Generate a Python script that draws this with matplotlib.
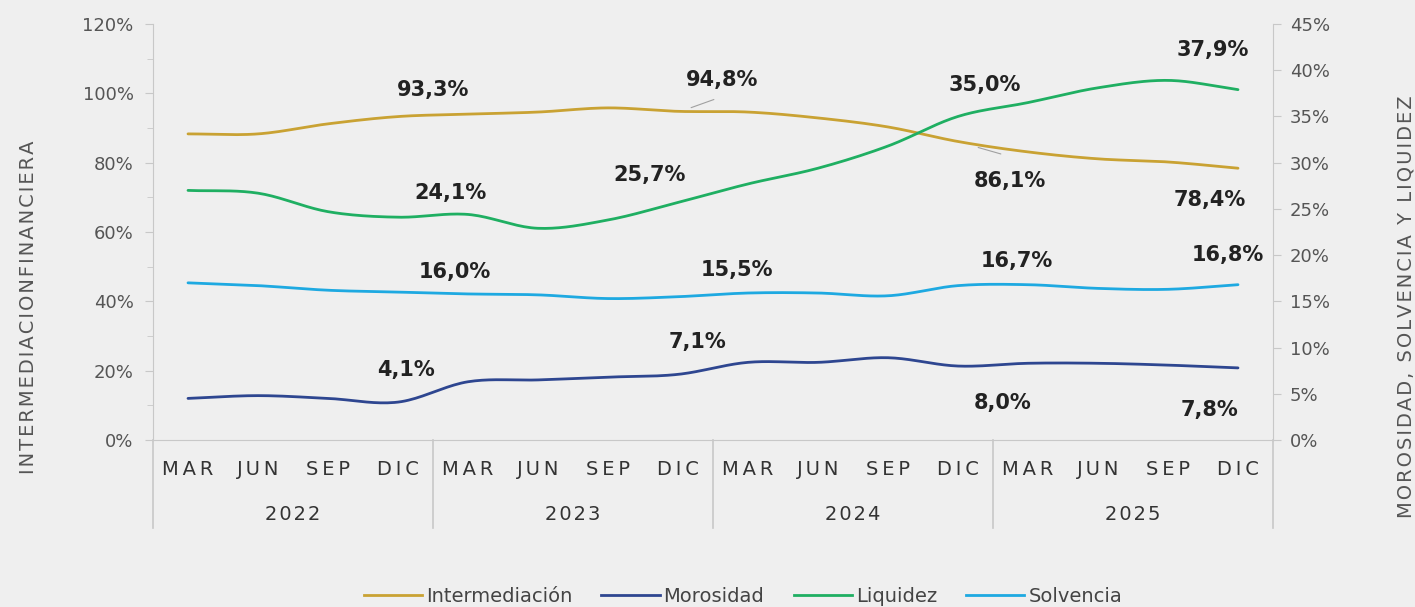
import numpy as np
import matplotlib
matplotlib.use("Agg")
import matplotlib.pyplot as plt
import matplotlib.transforms as mtransforms
from matplotlib.lines import Line2D

# ============================================================================
# DATOS
# ============================================================================
months = ["MAR", "JUN", "SEP", "DIC"]
years = ["2022", "2023", "2024", "2025"]

intermediacion = [88.3, 88.3, 91.2, 93.3, 94.0, 94.6, 95.8, 94.8,
                  94.6, 92.9, 90.3, 86.1, 83.1, 81.1, 80.2, 78.4]
morosidad = [4.5, 4.8, 4.5, 4.1, 6.3, 6.5, 6.8, 7.1,
             8.4, 8.4, 8.9, 8.0, 8.3, 8.3, 8.1, 7.8]
liquidez = [27.0, 26.7, 24.7, 24.1, 24.4, 22.9, 23.8, 25.7,
            27.7, 29.4, 31.8, 35.0, 36.5, 38.1, 38.9, 37.9]
solvencia = [17.0, 16.7, 16.2, 16.0, 15.8, 15.7, 15.3, 15.5,
             15.9, 15.9, 15.6, 16.7, 16.8, 16.4, 16.3, 16.8]

left_ticks = [0, 20, 40, 60, 80, 100, 120]
right_ticks = [0, 5, 10, 15, 20, 25, 30, 35, 40, 45]

COLORS = {
    "Intermediación": "#C9A233",
    "Morosidad": "#2E4690",
    "Liquidez": "#1FAF62",
    "Solvencia": "#1EA9E1",
}
BG = "#EFEFEF"
GRIS = "#555555"
EJE = "#C8C8C8"


def smooth(y, n=20):
    """Curva suavizada tipo Excel (Catmull-Rom) solo para el trazo."""
    y = np.asarray(y, dtype=float)
    x = np.arange(len(y), dtype=float)
    px = np.concatenate([[2 * x[0] - x[1]], x, [2 * x[-1] - x[-2]]])
    py = np.concatenate([[2 * y[0] - y[1]], y, [2 * y[-1] - y[-2]]])
    xs, ys = [], []
    t = np.linspace(0, 1, n, endpoint=False)
    for i in range(1, len(px) - 2):
        p0, p1, p2, p3 = py[i - 1], py[i], py[i + 1], py[i + 2]
        q0, q1, q2, q3 = px[i - 1], px[i], px[i + 1], px[i + 2]
        f = lambda a0, a1, a2, a3: 0.5 * ((2 * a1) + (-a0 + a2) * t
                                          + (2 * a0 - 5 * a1 + 4 * a2 - a3) * t ** 2
                                          + (-a0 + 3 * a1 - 3 * a2 + a3) * t ** 3)
        xs.append(f(q0, q1, q2, q3))
        ys.append(f(p0, p1, p2, p3))
    xs.append([x[-1]])
    ys.append([y[-1]])
    return np.concatenate(xs), np.concatenate(ys)


def spaced(s, sep="\u2009"):
    # espaciado entre letras como en el original
    return sep.join(s)


fig = plt.figure(figsize=(14.15, 6.07), dpi=100, facecolor=BG)
ax = fig.add_axes([153 / 1415, 1 - 440 / 607, 1120 / 1415, 416 / 607])
ax.set_facecolor(BG)
ax2 = ax.twinx()

n = len(intermediacion)
xpos = np.arange(n)

# --- Líneas -----------------------------------------------------------------
lw = 2.0
xs, ys = smooth(intermediacion)
ax.plot(xs, ys, color=COLORS["Intermediación"], lw=lw, solid_capstyle="round")
for name, serie in [("Morosidad", morosidad), ("Liquidez", liquidez),
                    ("Solvencia", solvencia)]:
    xs, ys = smooth(serie)
    ax2.plot(xs, ys, color=COLORS[name], lw=lw, solid_capstyle="round")

# --- Ejes -------------------------------------------------------------------
ax.set_xlim(-0.5, n - 0.5)
ax.set_ylim(0, 120)
ax2.set_ylim(0, 45)
ax.set_yticks(left_ticks)
ax.set_yticklabels([f"{v}%" for v in left_ticks])
ax.set_yticks(np.arange(0, 121, 10), minor=True)
ax2.set_yticks(right_ticks)
ax2.set_yticklabels([f"{v}%" for v in right_ticks])
ax.set_xticks([])

for a in (ax, ax2):
    for s in a.spines.values():
        s.set_visible(False)
ax.spines["left"].set_visible(True)
ax.spines["left"].set_color(EJE)
ax.spines["bottom"].set_visible(True)
ax.spines["bottom"].set_color(EJE)
ax2.spines["right"].set_visible(True)
ax2.spines["right"].set_color(EJE)

ax.tick_params(axis="y", which="both", colors=EJE, labelcolor=GRIS,
               labelsize=13, length=6, pad=8)
ax.tick_params(axis="y", which="minor", length=4)
ax2.tick_params(axis="y", colors=EJE, labelcolor=GRIS, labelsize=13,
                length=6, pad=6)

ax.set_ylabel(spaced("INTERMEDIACIONFINANCIERA", "\u200a"), color=GRIS,
              fontsize=14)
ax.yaxis.set_label_coords(-0.103, 0.32)
ax2.set_ylabel(spaced("MOROSIDAD, SOLVENCIA Y LIQUIDEZ", "\u200a"),
               color=GRIS, fontsize=14, rotation=90)
ax2.yaxis.set_label_coords(1.11, 0.32)

# --- Eje de categorías agrupado (mes / año) ---------------------------------
trans = mtransforms.blended_transform_factory(ax.transData, ax.transAxes)
for i in range(n):
    ax.text(xpos[i], -0.072, spaced(months[i % 4]), transform=trans,
            ha="center", va="center", fontsize=14, color="#333333")
for g, yr in enumerate(years):
    ax.text(g * 4 + 1.5, -0.18, spaced(yr, "\u200a"), transform=trans,
            ha="center", va="center", fontsize=14, color="#333333")
for b in np.arange(-0.5, n, 4):
    ax.plot([b, b], [0, -0.212], transform=trans, color=EJE, lw=1.2,
            clip_on=False)

# --- Etiquetas de datos (solo DIC) ------------------------------------------
dic = [3, 7, 11, 15]
labels = [
    (ax, intermediacion, [(35, 27), (44, 31), (52, -39), (-28, -32)]),
    (ax2, liquidez, [(52, 24), (-28, 27), (27, 31), (-25, 40)]),
    (ax2, solvencia, [(57, 20), (59, 27), (59, 25), (-10, 30)]),
    (ax2, morosidad, [(8, 32), (19, 32), (45, -37), (-28, -42)]),
]
for a, serie, offs in labels:
    for i, (dx, dy) in zip(dic, offs):
        txt = f"{serie[i]:.1f}%".replace(".", ",")
        a.annotate(txt, (xpos[i], serie[i]), xytext=(dx, dy),
                   textcoords="offset pixels", ha="center", va="center",
                   fontsize=15, fontweight="bold", color="#222222")

# líneas guía tenues
ax.annotate("", (xpos[7] + 0.15, intermediacion[7] + 0.8), xytext=(28, 10),
            textcoords="offset pixels",
            arrowprops=dict(arrowstyle="-", color="#A0A0A0", lw=0.8))
ax.annotate("", (xpos[11] + 0.25, intermediacion[11] - 1.5), xytext=(28, -8),
            textcoords="offset pixels",
            arrowprops=dict(arrowstyle="-", color="#A0A0A0", lw=0.8))

# --- Leyenda ----------------------------------------------------------------
handles = [Line2D([0], [0], color=c, lw=2.0) for c in COLORS.values()]
leg = fig.legend(handles, list(COLORS.keys()), loc="center",
                 bbox_to_anchor=(0.525, 0.018), ncol=4, frameon=False,
                 fontsize=14, handlelength=3.0, handletextpad=0.2,
                 columnspacing=1.5)
for t in leg.get_texts():
    t.set_color("#444444")

fig.savefig("out.png", dpi=100, facecolor=BG)
